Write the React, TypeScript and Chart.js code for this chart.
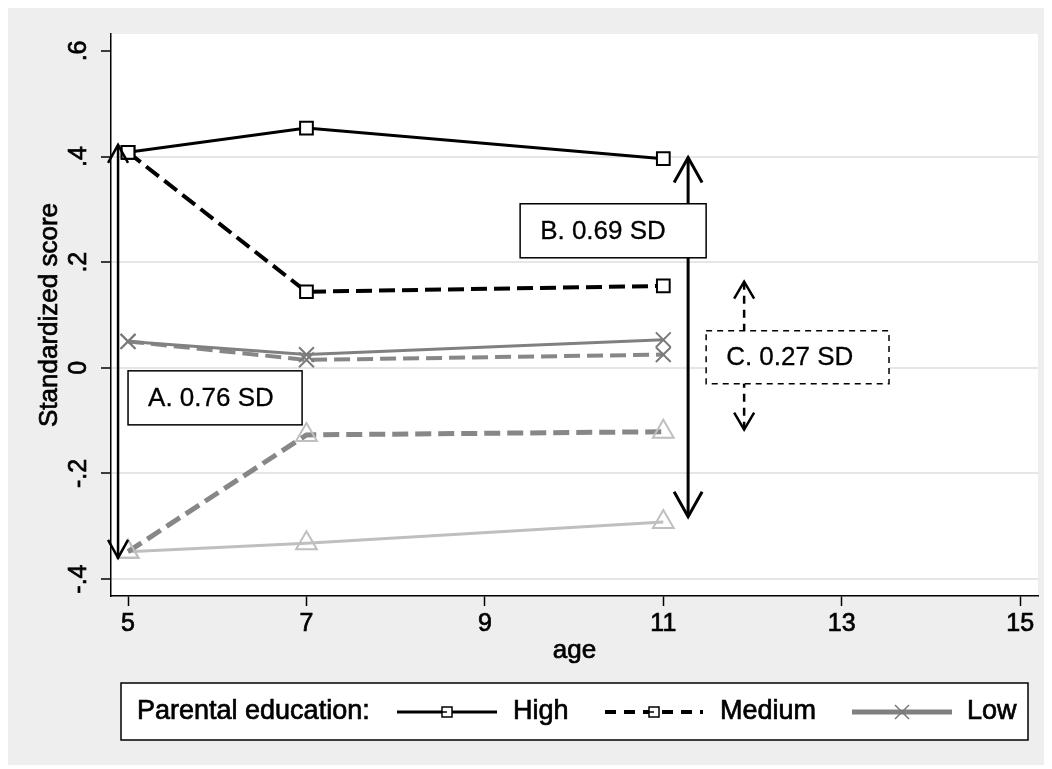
import { useEffect, useRef } from "react";
import { Chart, registerables } from "chart.js";

Chart.register(...registerables);

// ---- data ----
const ages = [5, 7, 11];
const highScores = [0.408, 0.454, 0.396];
const mediumScores = [0.408, 0.144, 0.155];
const lowScores = [0.05, 0.025, 0.053];
const lowDashedScores = [0.05, 0.015, 0.025];
const lowerDashedScores = [-0.348, -0.127, -0.121];
const lowerSolidScores = [-0.348, -0.332, -0.292];

const legendTitle = "Parental education:";
const legendLabels = ["High", "Medium", "Low"];

const xTicks = [5, 7, 9, 11, 13, 15];
const xTickLabels = ["5", "7", "9", "11", "13", "15"];
const yTicks = [-0.4, -0.2, 0, 0.2, 0.4, 0.6];
const yTickLabels = ["-.4", "-.2", "0", ".2", ".4", ".6"];
const xTitle = "age";
const yTitle = "Standardized score";

const gapLabels = ["A. 0.76 SD", "B. 0.69 SD", "C. 0.27 SD"];
const gapAge = [4.888, 11.278, 11.906];
const gapLow = [-0.36, -0.282, -0.117];
const gapHigh = [0.422, 0.398, 0.163];

const FONT = "'Liberation Sans', Arial, Helvetica, sans-serif";
const HEAVY = 0.7;

// layout of annotation boxes (data units) and arrow styles
const gapBoxes = [
  { x0: 5.0, x1: 6.951, y0: -0.0057, y1: -0.108, dashed: false },
  { x0: 9.395, x1: 11.48, y0: 0.3106, y1: 0.2083, dashed: false },
  { x0: 11.48, x1: 13.53, y0: 0.07, y1: -0.03, dashed: true },
];
const gapArrowStyle = [
  { w: 2.5, half: 10, len: 18, dash: [] as number[] },
  { w: 3, half: 14, len: 25, dash: [] as number[] },
  { w: 2.5, half: 10, len: 17, dash: [8, 6] },
];

function pts(ys: number[]) {
  return ages.map((a, i) => ({ x: a, y: ys[i] }));
}

function heavyText(ctx: any, text: string, x: number, y: number, stroke = HEAVY) {
  ctx.fillText(text, x, y);
  if (stroke > 0) {
    ctx.lineWidth = stroke;
    ctx.strokeStyle = ctx.fillStyle;
    ctx.setLineDash([]);
    ctx.strokeText(text, x, y);
  }
}

const bgPlugin = {
  id: "bg",
  beforeDraw(chart: any) {
    const { ctx, chartArea: ca, width, height } = chart;
    ctx.save();
    ctx.fillStyle = "#eeeeee";
    ctx.fillRect(0, 0, width, height);
    ctx.fillStyle = "#ffffff";
    ctx.fillRect(ca.left, ca.top, ca.right - ca.left, ca.bottom - ca.top);
    ctx.restore();
  },
};

const titlesPlugin = {
  id: "axisTitles",
  afterDraw(chart: any) {
    const { ctx, chartArea: ca } = chart;
    ctx.save();
    ctx.fillStyle = "#000";
    ctx.font = `26px ${FONT}`;
    ctx.textAlign = "center";
    ctx.textBaseline = "middle";
    heavyText(ctx, xTitle, (ca.left + ca.right) / 2, 643);
    ctx.translate(42, (ca.top + ca.bottom) / 2);
    ctx.rotate(-Math.PI / 2);
    ctx.fillStyle = "#000";
    heavyText(ctx, yTitle, 0, 0);
    ctx.restore();
  },
};

function arrowHead(ctx: any, x: number, y: number, dir: number, half: number, len: number) {
  ctx.beginPath();
  ctx.moveTo(x - half, y + dir * len);
  ctx.lineTo(x, y);
  ctx.lineTo(x + half, y + dir * len);
  ctx.stroke();
}

const gapPlugin = {
  id: "gaps",
  afterDatasetsDraw(chart: any) {
    const { ctx, scales } = chart;
    const xs = scales.x;
    const ys = scales.y;
    ctx.save();
    ctx.lineCap = "butt";
    gapLabels.forEach((label, i) => {
      const st = gapArrowStyle[i];
      const x = xs.getPixelForValue(gapAge[i]);
      const yTop = ys.getPixelForValue(gapHigh[i]);
      const yBot = ys.getPixelForValue(gapLow[i]);
      ctx.strokeStyle = "#000";
      ctx.lineWidth = st.w;
      ctx.setLineDash(st.dash);
      ctx.beginPath();
      ctx.moveTo(x, yTop);
      ctx.lineTo(x, yBot);
      ctx.stroke();
      ctx.setLineDash([]);
      ctx.lineJoin = "miter";
      arrowHead(ctx, x, yTop, 1, st.half, st.len);
      arrowHead(ctx, x, yBot, -1, st.half, st.len);

      const b = gapBoxes[i];
      const bx0 = xs.getPixelForValue(b.x0);
      const bx1 = xs.getPixelForValue(b.x1);
      const by0 = ys.getPixelForValue(b.y0);
      const by1 = ys.getPixelForValue(b.y1);
      ctx.fillStyle = "#fff";
      ctx.fillRect(bx0, by0, bx1 - bx0, by1 - by0);
      ctx.strokeStyle = "#000";
      ctx.lineWidth = 1.5;
      ctx.setLineDash(b.dashed ? [6, 5] : []);
      ctx.strokeRect(bx0, by0, bx1 - bx0, by1 - by0);
      ctx.setLineDash([]);
      ctx.fillStyle = "#000";
      ctx.font = `26px ${FONT}`;
      ctx.textAlign = "left";
      ctx.textBaseline = "middle";
      heavyText(ctx, label, bx0 + 20, (by0 + by1) / 2 + 1, 0.3);
    });
    ctx.restore();
  },
};

const legendPlugin = {
  id: "stataLegend",
  afterDraw(chart: any) {
    const { ctx } = chart;
    const ds = chart.data.datasets;
    ctx.save();
    const bx = 113, by = 675, bw = 907, bh = 57;
    ctx.fillStyle = "#fff";
    ctx.fillRect(bx, by, bw, bh);
    ctx.strokeStyle = "#000";
    ctx.lineWidth = 1.5;
    ctx.strokeRect(bx, by, bw, bh);
    const cy = 704;
    ctx.fillStyle = "#000";
    ctx.font = `27px ${FONT}`;
    ctx.textAlign = "left";
    ctx.textBaseline = "middle";
    heavyText(ctx, legendTitle, 129, cy);

    const items = [
      { x0: 389, x1: 489, tx: 505, d: ds[0], dash: [] as number[], w: 3, marker: "rect" },
      { x0: 597, x1: 695, tx: 712, d: ds[1], dash: [11, 8], w: 4, marker: "rect" },
      { x0: 844, x1: 944, tx: 959, d: ds[2], dash: [] as number[], w: 5, marker: "cross" },
    ];
    items.forEach((it, i) => {
      ctx.strokeStyle = it.d.borderColor;
      ctx.lineWidth = it.w;
      ctx.setLineDash(it.dash);
      ctx.beginPath();
      ctx.moveTo(it.x0, cy);
      ctx.lineTo(it.x1, cy);
      ctx.stroke();
      ctx.setLineDash([]);
      const mx = (it.x0 + it.x1) / 2;
      ctx.strokeStyle = it.d.pointBorderColor;
      ctx.lineWidth = 1.5;
      if (it.marker === "rect") {
        ctx.fillStyle = "#fff";
        ctx.fillRect(mx - 5, cy - 5, 10, 10);
        ctx.strokeRect(mx - 5, cy - 5, 10, 10);
        ctx.beginPath();
        ctx.moveTo(mx - 5, cy);
        ctx.lineTo(mx, cy);
        ctx.stroke();
      } else {
        ctx.beginPath();
        ctx.moveTo(mx - 7, cy - 7);
        ctx.lineTo(mx + 7, cy + 7);
        ctx.moveTo(mx - 7, cy + 7);
        ctx.lineTo(mx + 7, cy - 7);
        ctx.stroke();
      }
      ctx.fillStyle = "#000";
      ctx.font = `27px ${FONT}`;
      heavyText(ctx, legendLabels[i], it.tx, cy);
    });
    ctx.restore();
  },
};

export default function App() {
  const ref = useRef<HTMLCanvasElement | null>(null);
  useEffect(() => {
    document.documentElement.style.overflow = "hidden";
    document.body.style.overflow = "hidden";
    const canvas = ref.current;
    if (!canvas) return;
    Chart.defaults.font.family = FONT;
    const chart = new Chart(canvas, {
      type: "line",
      data: {
        datasets: [
          {
            label: legendLabels[0],
            data: pts(highScores),
            borderColor: "#000000",
            borderWidth: 3,
            pointStyle: "rect",
            pointRadius: 9,
            pointBorderWidth: 2,
            pointBorderColor: "#000000",
            pointBackgroundColor: "#ffffff",
          },
          {
            label: legendLabels[1],
            data: pts(mediumScores),
            borderColor: "#000000",
            borderWidth: 4,
            borderDash: [16, 7],
            pointStyle: "rect",
            pointRadius: 9,
            pointBorderWidth: 2,
            pointBorderColor: "#000000",
            pointBackgroundColor: "#ffffff",
          },
          {
            label: legendLabels[2],
            data: pts(lowScores),
            borderColor: "#808080",
            borderWidth: 3,
            pointStyle: "crossRot",
            pointRadius: 10.5,
            pointBorderWidth: 2,
            pointBorderColor: "#7a7a7a",
            pointBackgroundColor: "rgba(0,0,0,0)",
          },
          {
            label: "low-dashed",
            data: pts(lowDashedScores),
            borderColor: "#878787",
            borderWidth: 4,
            borderDash: [16, 7],
            pointStyle: "crossRot",
            pointRadius: 10.5,
            pointBorderWidth: 2,
            pointBorderColor: "#7a7a7a",
            pointBackgroundColor: "rgba(0,0,0,0)",
          },
          {
            label: "lower-dashed",
            data: pts(lowerDashedScores),
            borderColor: "#878787",
            borderWidth: 5,
            borderDash: [16, 7],
            pointStyle: "triangle",
            pointRadius: 12,
            pointBorderWidth: 2,
            pointBorderColor: "#bfbfbf",
            pointBackgroundColor: "rgba(0,0,0,0)",
          },
          {
            label: "lower-solid",
            data: pts(lowerSolidScores),
            borderColor: "#bfbfbf",
            borderWidth: 3,
            pointStyle: "triangle",
            pointRadius: 12,
            pointBorderWidth: 2,
            pointBorderColor: "#bfbfbf",
            pointBackgroundColor: "rgba(0,0,0,0)",
          },
        ],
      },
      options: {
        responsive: false,
        animation: false,
        devicePixelRatio: 1,
        layout: { padding: { top: 26, right: 14, left: 0, bottom: 0 } },
        plugins: {
          legend: { display: false },
          tooltip: { enabled: false },
        },
        elements: { line: { tension: 0 } },
        scales: {
          x: {
            type: "linear",
            min: 4.809,
            max: 15.2,
            afterBuildTicks: (s: any) => {
              s.ticks = xTicks.map((v) => ({ value: v }));
            },
            afterFit: (s: any) => {
              s.height = 169;
            },
            ticks: {
              color: "#000",
              font: { size: 25, family: FONT },
              padding: 3,
              textStrokeColor: "#000",
              textStrokeWidth: HEAVY,
              callback: (v: any) => xTickLabels[xTicks.indexOf(Number(v))] ?? "",
            },
            grid: {
              drawOnChartArea: false,
              drawTicks: true,
              tickLength: 10,
              tickColor: "#000",
              tickWidth: 1.5,
            },
            border: { display: true, color: "#000", width: 1.5 },
            title: { display: false },
          },
          y: {
            type: "linear",
            min: -0.432,
            max: 0.632,
            afterBuildTicks: (s: any) => {
              s.ticks = yTicks.map((v) => ({ value: v }));
            },
            afterFit: (s: any) => {
              s.width = 103;
            },
            ticks: {
              color: "#000",
              font: { size: 25, family: FONT },
              padding: 7,
              minRotation: 90,
              maxRotation: 90,
              crossAlign: "center",
              textStrokeColor: "#000",
              textStrokeWidth: HEAVY,
              callback: (v: any) => yTickLabels[yTicks.indexOf(Number(v))] ?? "",
            },
            grid: {
              color: (c: any) => (c.tick && c.tick.value === 0.6 ? "rgba(0,0,0,0)" : "#e6e6e6"),
              lineWidth: 2,
              drawTicks: true,
              tickLength: 10,
              tickColor: "#000",
              tickWidth: 1.5,
            },
            border: { display: true, color: "#000", width: 1.5 },
            title: { display: false },
          },
        },
      },
      plugins: [bgPlugin, gapPlugin, legendPlugin, titlesPlugin],
    } as any);
    return () => chart.destroy();
  }, []);
  return (
    <div style={{ width: 1044, height: 757 }}>
      <canvas ref={ref} width={1044} height={757} style={{ width: 1044, height: 757, display: "block" }} />
    </div>
  );
}
